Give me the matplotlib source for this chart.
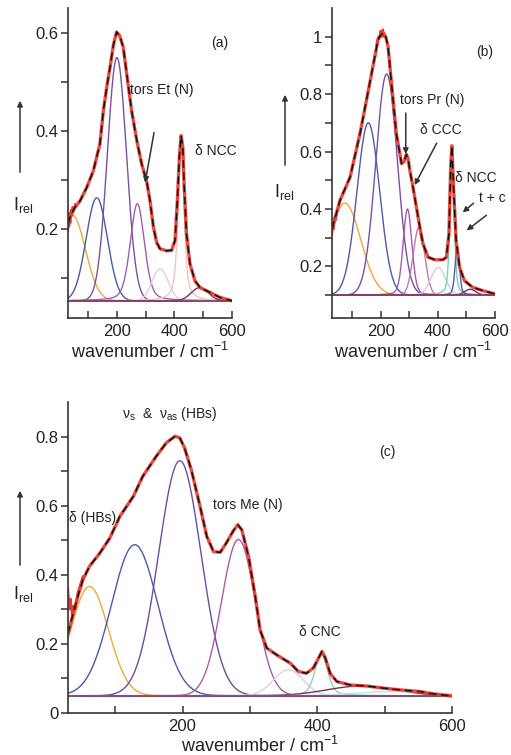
import numpy as np
import matplotlib
matplotlib.use("Agg")
import matplotlib.pyplot as plt
from matplotlib.ticker import FormatStrFormatter

plt.rcParams['font.family'] = ['Liberation Sans', 'DejaVu Sans']
plt.rcParams['mathtext.fontset'] = 'custom'
plt.rcParams['mathtext.rm'] = 'Liberation Sans'
plt.rcParams['mathtext.it'] = 'Liberation Sans:italic'

W, H = 511, 755
gap = np.nan  # breaks a noisy red segment

# ---- panel (a): traced spectrum (red = experiment, black dashed = fit)
a_wn = [30, 37, 50, 72, 95, 118, 141, 153, 165, 176, 188, 199, 210, 222, 234, 251,
        269, 286, 304, 315, 327, 338, 350, 373, 390, 402, 410, 417, 423, 429, 434,
        442, 454, 471, 489, 524, 558, 600]
a_fit = [0.21, 0.223, 0.24, 0.257, 0.284, 0.318, 0.373, 0.441, 0.49, 0.529, 0.575,
         0.601, 0.593, 0.570, 0.516, 0.441, 0.380, 0.332, 0.295, 0.257, 0.203, 0.172,
         0.159, 0.155, 0.156, 0.176, 0.257, 0.346, 0.390, 0.366, 0.284, 0.189, 0.128,
         0.094, 0.080, 0.070, 0.060, 0.053]
a_noise_wn = [30, 32, 34, 36, 38, 40, 43, 46, 50, 55]
a_noise = [0.195, 0.232, 0.205, 0.228, 0.212, 0.238, 0.226, 0.244, 0.236, 0.25]
# band components: centre, height above baseline, FWHM, Lorentz fraction
a_pos = [45, 130, 200, 271, 350, 423, 488]
a_amp = [0.175, 0.21, 0.496, 0.198, 0.065, 0.33, 0.027]
a_fwhm = [106, 87, 78, 58, 66, 24, 70]
a_eta = [0, 0, 0, 0.3, 0, 0.6, 0]
a_col = ['#f0a838', '#4a5aa8', '#7a50a4', '#a45cb0', '#e2cce2', '#f0c6bc', '#74305f']
a_base = 0.053

# ---- panel (b)
b_wn = [30, 58, 93, 128, 162, 191, 200, 209, 218, 226, 238, 255, 273, 282, 290, 296,
        302, 313, 325, 337, 348, 366, 389, 418, 430, 439, 445, 449, 455, 464, 476,
        493, 522, 558, 600]
b_fit = [0.33, 0.43, 0.51, 0.663, 0.838, 0.99, 1.005, 1.013, 1.0, 0.966, 0.838, 0.663,
         0.558, 0.565, 0.59, 0.575, 0.535, 0.477, 0.407, 0.337, 0.279, 0.232, 0.223,
         0.223, 0.232, 0.314, 0.547, 0.62, 0.477, 0.29, 0.197, 0.150, 0.127, 0.115,
         0.104]
b_noise_wn = [30, 33, 36, 39, 42, 46, gap, 186, 192, 196, 200, 204, 208, 212, 216]
b_noise = [0.31, 0.35, 0.33, 0.37, 0.36, 0.38, gap, 0.97, 1.0, 0.995, 1.02, 1.0,
           1.025, 1.0, 1.0]
b_pos = [75, 157, 221, 294, 334, 401, 450, 468, 513]
b_amp = [0.32, 0.6, 0.77, 0.30, 0.236, 0.096, 0.47, 0.17, 0.02]
b_fwhm = [130, 93, 89, 36, 47, 60, 18, 18, 45]
b_eta = [0, 0, 0, 0.2, 0, 0, 0.4, 0.3, 0]
b_col = ['#f0a838', '#4a5aa8', '#7a50a4', '#a45cb0', '#c47aa8', '#dccadc', '#78d0b4',
         '#5060b0', '#74305f']
b_base = 0.10

# ---- panel (c)
c_wn = [30, 38, 45, 52, 62, 77, 92, 107, 127, 141, 161, 176, 189, 196, 203, 213, 226,
        236, 246, 256, 265, 275, 282, 288, 298, 308, 315, 325, 340, 360, 372, 384, 394,
        402, 407, 412, 419, 429, 449, 474, 498, 523, 553, 573, 600]
c_fit = [0.23, 0.29, 0.34, 0.385, 0.425, 0.462, 0.506, 0.569, 0.627, 0.685, 0.743,
         0.782, 0.801, 0.796, 0.767, 0.704, 0.598, 0.511, 0.467, 0.465, 0.492, 0.526,
         0.545, 0.530, 0.453, 0.337, 0.241, 0.188, 0.168, 0.144, 0.120, 0.115, 0.130,
         0.159, 0.178, 0.159, 0.115, 0.091, 0.081, 0.078, 0.072, 0.067, 0.062, 0.055,
         0.049]
c_noise_wn = [30, 32, 34, 36, 38, 41, 44, 48, 52]
c_noise = [0.36, 0.30, 0.33, 0.28, 0.31, 0.30, 0.345, 0.37, 0.395]
c_pos = [62, 129, 196, 283, 357, 406, 465, 520]
c_amp = [0.316, 0.437, 0.68, 0.452, 0.075, 0.123, 0.028, 0.012]
c_fwhm = [66, 81, 74, 59, 52, 22, 120, 150]
c_eta = [0, 0, 0, 0, 0, 0.4, 0, 0]
c_col = ['#f0a838', '#4a5aa8', '#6e4c9e', '#b05aa0', '#e2cde2', '#8cd4b6', '#74305f',
         '#bfe6e0']
c_base = 0.05


def band(x, c, h, w, eta):
    """pseudo-Voigt band"""
    g = np.exp(-4 * np.log(2) * (x - c) ** 2 / w ** 2)
    l = 1.0 / (1.0 + 4 * (x - c) ** 2 / w ** 2)
    return h * ((1 - eta) * g + eta * l)


def px_axes(left, top, right, bottom):
    return [left / W, 1 - bottom / H, (right - left) / W, (bottom - top) / H]


def fpx(x, y):
    return (x / W, 1 - y / H)


def draw_panel(ax, wn, fit, nwn, noise, pos, amp, fwhm, eta, cols, base, ylim,
               yticks, yminor):
    x = np.linspace(30, 600, 800)
    for c, h, w, e, col in zip(pos, amp, fwhm, eta, cols):
        ax.plot(x, base + band(x, c, h, w, e), color=col, lw=1.0)
    ax.axhline(base, color='#8a3e6e', lw=1.3)
    ax.plot(nwn, noise, color='#e8362a', lw=1.6)
    ax.plot(wn, fit, color='#e8362a', lw=2.4, alpha=0.9)
    ax.plot(wn, fit, color='#111111', lw=1.1, dashes=(5, 3))
    ax.set_xlim(30, 600)
    ax.set_ylim(*ylim)
    ax.set_xticks([200, 400, 600])
    ax.set_xticks([100, 300, 500], minor=True)
    ax.set_yticks(yticks)
    ax.set_yticks(yminor, minor=True)
    ax.yaxis.set_major_formatter(FormatStrFormatter('%g'))
    for s in ['top', 'right']:
        ax.spines[s].set_visible(False)
    for s in ['left', 'bottom']:
        ax.spines[s].set_color('#333333')
        ax.spines[s].set_linewidth(1.2)
    ax.tick_params(axis='x', which='both', direction='in', length=5, width=1.1,
                   labelsize=12, pad=4, colors='#333333', labelcolor='#222222')
    ax.tick_params(axis='y', which='both', direction='out', length=5, width=1.1,
                   labelsize=12, pad=2, colors='#333333', labelcolor='#222222')


fig = plt.figure(figsize=(W / 100, H / 100), dpi=100)

ax_a = fig.add_axes(px_axes(68, 8, 232, 318))
draw_panel(ax_a, a_wn, a_fit, a_noise_wn, a_noise, a_pos, a_amp, a_fwhm, a_eta, a_col,
           a_base, (0.018, 0.65), [0.2, 0.4, 0.6], [0.1, 0.3, 0.5])
ax_b = fig.add_axes(px_axes(332, 8, 495, 318))
draw_panel(ax_b, b_wn, b_fit, b_noise_wn, b_noise, b_pos, b_amp, b_fwhm, b_eta, b_col,
           b_base, (0.02, 1.1), [0.2, 0.4, 0.6, 0.8, 1.0],
           [0.1, 0.3, 0.5, 0.7, 0.9])
ax_c = fig.add_axes(px_axes(68, 402, 452, 713))
draw_panel(ax_c, c_wn, c_fit, c_noise_wn, c_noise, c_pos, c_amp, c_fwhm, c_eta, c_col,
           c_base, (0, 0.9), [0, 0.2, 0.4, 0.6, 0.8], [0.1, 0.3, 0.5, 0.7])

txt = dict(fontsize=10, color='#222222', ha='center', va='center')
arr = dict(arrowstyle='-|>', lw=1.1, color='#333333', mutation_scale=8,
           shrinkA=0, shrinkB=0)

# panel (a) labels
ax_a.text(558, 0.578, '(a)', **txt)
ax_a.text(357, 0.482, 'tors Et (N)', **txt)
ax_a.annotate('', xy=(298, 0.294), xytext=(329, 0.396), arrowprops=arr)
ax_a.text(544, 0.359, 'δ NCC', **txt)

# panel (b) labels
ax_b.text(563, 0.948, '(b)', **txt)
ax_b.text(382, 0.78, 'tors Pr (N)', **txt)
ax_b.annotate('', xy=(288, 0.591), xytext=(288, 0.734), arrowprops=arr)
ax_b.text(410, 0.675, 'δ CCC', **txt)
ax_b.annotate('', xy=(319, 0.483), xytext=(396, 0.629), arrowprops=arr)
ax_b.text(532, 0.507, 'δ NCC', **txt)
ax_b.text(591, 0.437, 't + c', **txt)
ax_b.annotate('', xy=(487, 0.388), xytext=(525, 0.42), arrowprops=arr)
ax_b.annotate('', xy=(501, 0.325), xytext=(570, 0.378), arrowprops=arr)

# panel (c) labels
ax_c.text(504, 0.754, '(c)', **txt)
ax_c.text(181, 0.864, 'ν$_{\\rm s}$  &  ν$_{\\rm as}$ (HBs)', **txt)
ax_c.text(32, 0.565, 'δ (HBs)', fontsize=10, color='#222222', ha='left', va='center')
ax_c.text(297, 0.603, 'tors Me (N)', **txt)
ax_c.text(404, 0.235, 'δ CNC', **txt)

# axis titles
for (x0, y0), (ax_x, ay0, ay1) in [((23, 205), (20, 175, 98)),
                                    ((284, 192), (285, 168, 92)),
                                    ((23, 594), (20, 568, 488))]:
    fig.text(*fpx(x0, y0), r'I$_{\rm rel}$', fontsize=13, color='#222222',
             ha='center', va='center')
    fig.add_artist(matplotlib.patches.FancyArrowPatch(
        fpx(ax_x, ay0), fpx(ax_x, ay1), transform=fig.transFigure,
        arrowstyle='-|>', mutation_scale=8, lw=1.1, color='#333333'))

for xc, yc in [(150, 352), (413, 352), (260, 746)]:
    fig.text(*fpx(xc, yc), r'wavenumber / cm$^{-1}$', fontsize=13, color='#222222',
             ha='center', va='center')

fig.savefig('out.png', dpi=100)
